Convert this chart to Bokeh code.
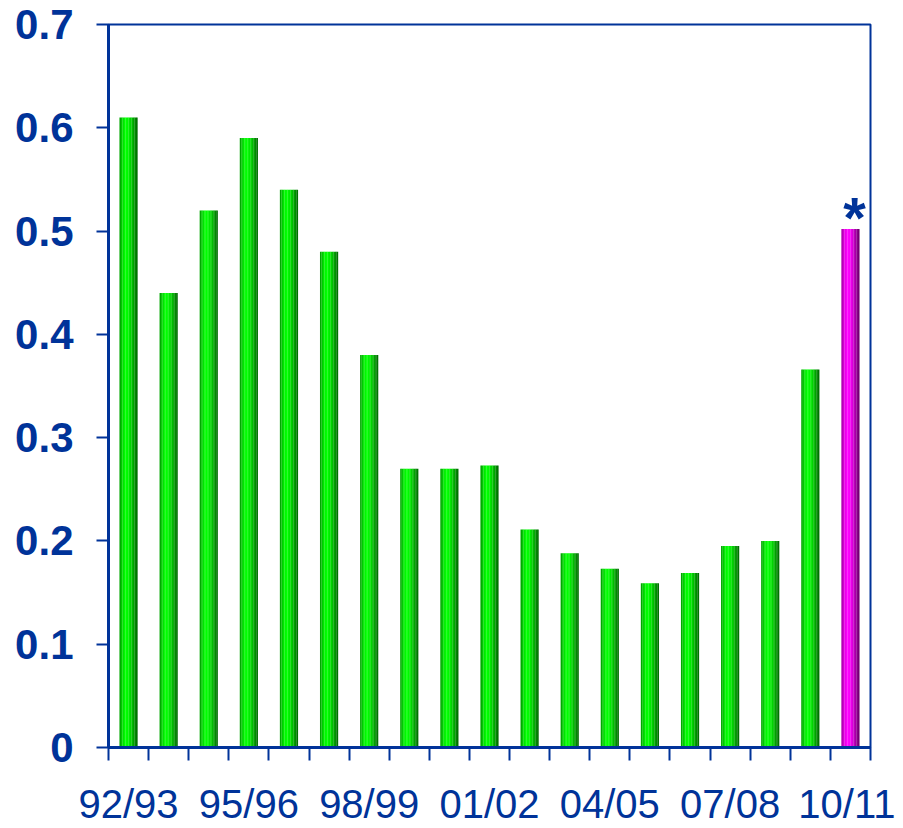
from bokeh.plotting import figure
from bokeh.models import FixedTicker, Range1d, ColumnDataSource
from bokeh.embed import file_html
from bokeh.resources import INLINE
from bokeh.core.properties import value

# ---- data ----
seasons = ["92/93", "93/94", "94/95", "95/96", "96/97", "97/98", "98/99",
           "99/00", "00/01", "01/02", "02/03", "03/04", "04/05", "05/06",
           "06/07", "07/08", "08/09", "09/10", "10/11"]
values = [0.61, 0.44, 0.52, 0.59, 0.54, 0.48, 0.38, 0.27, 0.27, 0.273,
          0.211, 0.188, 0.173, 0.159, 0.169, 0.195, 0.200, 0.366, 0.502]
highlight = [False] * 18 + [True]     # last season shown in magenta, starred
y_ticks = [0, 0.1, 0.2, 0.3, 0.4, 0.5, 0.6, 0.7]
y_labels = ["0", "0.1", "0.2", "0.3", "0.4", "0.5", "0.6", "0.7"]
label_every = 3

BLUE = "#003399"
FONT = "Liberation Sans"

idx = list(range(len(seasons)))

p = figure(width=895, height=828, output_backend="svg", toolbar_location=None,
           x_range=Range1d(-0.5, len(seasons) - 0.5), y_range=Range1d(0, 0.7),
           min_border_left=108, min_border_right=25, min_border_top=24,
           min_border_bottom=81)
p.xgrid.visible = False
p.ygrid.visible = False
p.background_fill_color = "white"
p.border_fill_color = "white"
p.outline_line_color = BLUE
p.outline_line_width = 2

# gradient simulated with vertical strips
green_strips = ["#00a800", "#00c800", "#00e400", "#00f800", "#00ff00",
                "#00f800", "#00e800", "#00d400", "#00bc00", "#00a000",
                "#008800", "#007000"]
mag_strips = ["#b000b0", "#d000d0", "#e800e8", "#f800f8", "#ff00ff",
              "#f800f8", "#ec00ec", "#d800d8", "#c000c0", "#a400a4",
              "#8c008c", "#740074"]
bar_w = 0.45
n = len(green_strips)
sw = bar_w / n
for k in range(n):
    off = -bar_w / 2 + sw * (k + 0.5)
    src = ColumnDataSource(dict(
        x=[i + off for i in idx],
        top=values,
        color=[mag_strips[k] if h else green_strips[k] for h in highlight],
    ))
    p.vbar(x="x", top="top", bottom=0, width=sw * 1.1, source=src,
           fill_color="color", line_color=None)

# asterisk above highlighted bar(s)
star_src = ColumnDataSource(dict(
    x=[i for i, h in zip(idx, highlight) if h],
    y=[v for v, h in zip(values, highlight) if h],
    t=["*" for h in highlight if h],
))
p.text(x="x", y="y", text="t", source=star_src, text_color=BLUE,
       text_font=value(FONT), text_font_style="bold", text_font_size="58px",
       text_align="center", text_baseline="alphabetic", x_offset=4, y_offset=-12)

# x axis
xa = p.xaxis[0]
xa.ticker = FixedTicker(ticks=idx[::label_every],
                        minor_ticks=[i - 0.5 for i in idx] + [len(idx) - 0.5])
xa.major_label_overrides = {i: seasons[i] for i in idx[::label_every]}
xa.major_tick_out = 0
xa.major_tick_in = 0
xa.minor_tick_out = 13
xa.minor_tick_in = 0
xa.minor_tick_line_color = BLUE
xa.minor_tick_line_width = 2
xa.axis_line_color = BLUE
xa.axis_line_width = 3
xa.major_label_text_color = BLUE
xa.major_label_text_font = FONT
xa.major_label_text_font_size = "40px"
xa.major_label_standoff = 21

# y axis
ya = p.yaxis[0]
ya.ticker = FixedTicker(ticks=y_ticks, minor_ticks=[])
ya.major_label_overrides = {t: l for t, l in zip(y_ticks, y_labels)}
ya.major_tick_out = 12
ya.major_tick_in = 0
ya.major_tick_line_color = BLUE
ya.major_tick_line_width = 2
ya.axis_line_color = BLUE
ya.axis_line_width = 3
ya.major_label_text_color = BLUE
ya.major_label_text_font = FONT
ya.major_label_text_font_style = "bold"
ya.major_label_text_font_size = "42px"
ya.major_label_standoff = 23

open("out.html", "w").write(file_html(p, INLINE))
